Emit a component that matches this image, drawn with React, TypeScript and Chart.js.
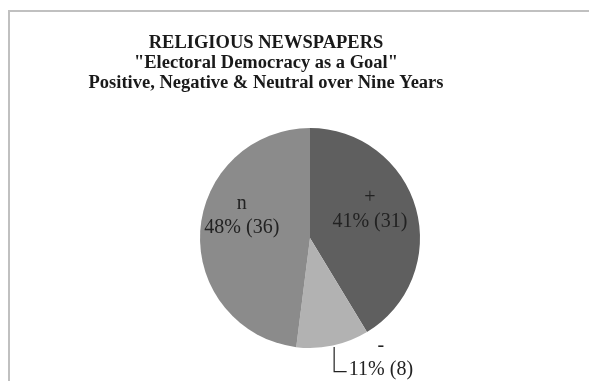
import React, { useEffect, useRef } from "react";
import { Chart, registerables } from "chart.js";

Chart.register(...registerables);

const categories = ["+", "-", "n"];
const counts = [31, 8, 36];
const percents = ["41%", "11%", "48%"];
const titleLines = [
  "RELIGIOUS NEWSPAPERS",
  "\"Electoral Democracy as a Goal\"",
  "Positive, Negative & Neutral over Nine Years",
];
const sliceColors = ["#5f5f5f", "#b2b2b2", "#8b8b8b"];

// label anchor positions relative to pie center, in units of radius
const labelPos = [
  { dx: 0.545, dy: -0.26 },
  { dx: 0.645, dy: 1.09 },
  { dx: -0.62, dy: -0.2 },
];

const decorPlugin = {
  id: "decor",
  beforeDraw(chart: any) {
    const ctx = chart.ctx;
    ctx.save();
    ctx.fillStyle = "#c0c0c0";
    ctx.fillRect(8, 10, 2, chart.height - 10);
    ctx.fillRect(8, 10, chart.width - 8, 2);
    ctx.restore();
  },
  afterDraw(chart: any) {
    const ctx = chart.ctx;
    ctx.save();
    ctx.fillStyle = "#1a1a1a";
    ctx.textAlign = "center";
    ctx.textBaseline = "middle";
    ctx.font = "bold 18.5px 'Liberation Serif', 'Times New Roman', serif";
    titleLines.forEach((t, i) => ctx.fillText(t, 266, 43 + i * 20));

    const meta = chart.getDatasetMeta(0);
    const arc = meta.data[0];
    const cx = arc.x;
    const cy = arc.y;
    const r = arc.outerRadius;
    ctx.font = "20px 'Liberation Serif', 'Times New Roman', serif";
    ctx.fillStyle = "#222";
    categories.forEach((c, i) => {
      const x = cx + labelPos[i].dx * r;
      const y = cy + labelPos[i].dy * r;
      ctx.fillText(c, x, y - 12);
      ctx.fillText(percents[i] + " (" + counts[i] + ")", x, y + 12);
    });
    // leader line for "-" label
    const lx = cx + 0.215 * r;
    ctx.strokeStyle = "#222";
    ctx.lineWidth = 1.2;
    ctx.beginPath();
    ctx.moveTo(lx + 0.5, cy + 0.99 * r);
    ctx.lineTo(lx + 0.5, cy + 1.215 * r);
    ctx.lineTo(lx + 13, cy + 1.215 * r);
    ctx.stroke();
    ctx.restore();
  },
};

export default function App() {
  const ref = useRef<HTMLCanvasElement>(null);
  useEffect(() => {
    if (!ref.current) return;
    const chart = new Chart(ref.current, {
      type: "pie",
      data: {
        labels: categories,
        datasets: [
          {
            data: counts,
            backgroundColor: sliceColors,
            borderWidth: 0,
          },
        ],
      },
      options: {
        animation: false,
        responsive: false,
        layout: { padding: { top: 128, bottom: 33, left: 200, right: 169 } },
        plugins: {
          legend: { display: false },
          tooltip: { enabled: false },
          title: { display: false },
        },
      },
      plugins: [decorPlugin],
    });
    return () => chart.destroy();
  }, []);
  return (
    <div style={{ position: "fixed", left: 0, top: 0, width: 589, height: 381, background: "#fff" }}>
      <canvas ref={ref} width={589} height={381} style={{ width: 589, height: 381, display: "block" }} />
    </div>
  );
}
